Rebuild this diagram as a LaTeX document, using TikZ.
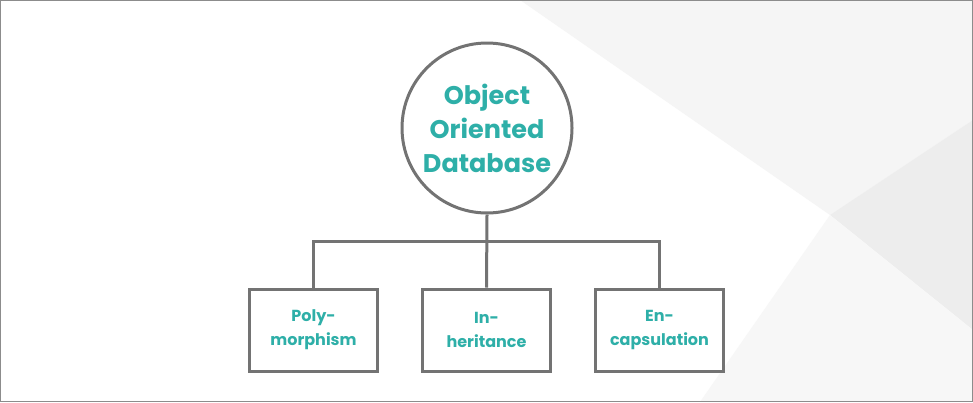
\documentclass[tikz,border=0pt]{standalone}
\usepackage{fontspec}
\setmainfont{Poppins}
\definecolor{tl}{HTML}{2EAFA8}
\begin{document}
\begin{tikzpicture}[x=1pt,y=-1pt,
  ln/.style={draw=black!55,line width=3pt},
  lbl/.style={text=tl,font=\bfseries,align=center}]
\useasboundingbox (0,0) rectangle (973,402);
\fill[white] (0,0) rectangle (973,402);
\fill[black!4] (520,0) -- (973,0) -- (973,120) -- (830,215) -- cycle;
\fill[black!7] (830,215) -- (973,120) -- (973,330) -- cycle;
\fill[black!3] (830,215) -- (973,330) -- (973,402) -- (700,402) -- cycle;
\draw[black!45,line width=1pt] (0.5,0.5) rectangle (972.5,401.5);
\node[ln,circle,minimum size=170pt,inner sep=0pt] (c) at (487,128) {};
\node[lbl,font=\bfseries\fontsize{25.5}{34}\selectfont] at (c) {Object\\Oriented\\Database};
\node[ln,minimum width=128pt,minimum height=82pt] (a) at (313.5,330) {};
\node[ln,minimum width=128pt,minimum height=82pt] (b) at (486.5,330) {};
\node[ln,minimum width=128pt,minimum height=82pt] (d) at (659.5,330) {};
\node[lbl,font=\bfseries\fontsize{16}{24}\selectfont] at (a) {Poly-\\morphism};
\node[lbl,font=\bfseries\fontsize{16}{24}\selectfont] at (b) {In-\\heritance};
\node[lbl,font=\bfseries\fontsize{16}{24}\selectfont] at (d) {En-\\capsulation};
\coordinate (j) at (487,241);
\draw[ln] (c.south) -- (b.north);
\draw[ln] (a.north) |- (j) -| (d.north);
\end{tikzpicture}
\end{document}
